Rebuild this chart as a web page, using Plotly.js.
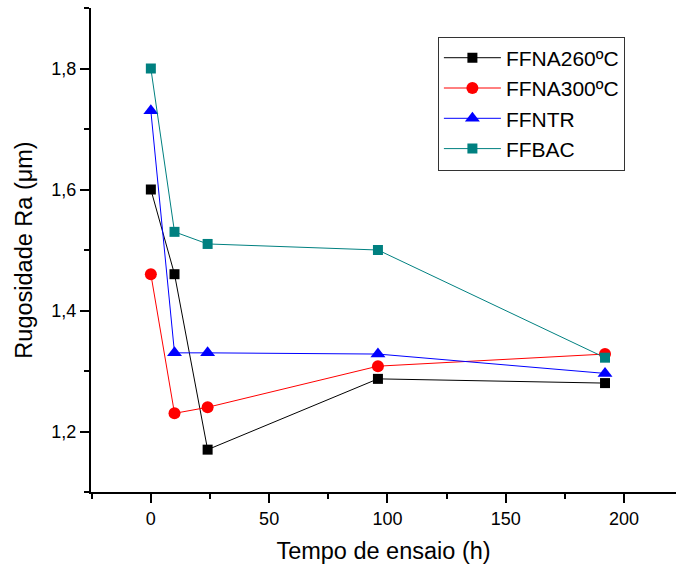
<!DOCTYPE html>
<html>
<head>
<meta charset="utf-8">
<script src="https://cdn.plot.ly/plotly-3.0.1.min.js"></script>
<style>html,body{margin:0;padding:0;background:#fff;}#chart{width:676px;height:569px;}</style>
</head>
<body>
<div id="chart"></div>
<script>
const tempo = [0, 10, 24, 96, 192];
const seriesNames = ["FFNA260ºC", "FFNA300ºC", "FFNTR", "FFBAC"];
const ffna260 = [1.60, 1.46, 1.17, 1.287, 1.28];
const ffna300 = [1.46, 1.23, 1.24, 1.308, 1.328];
const ffntr = [1.73, 1.33, 1.33, 1.328, 1.296];
const ffbac = [1.80, 1.53, 1.51, 1.50, 1.322];

const colors = ["#000000", "#ff0000", "#0000ff", "#008080"];
const symbols = ["square", "circle", "triangle-up", "square"];
const sizes = [10, 12, 13, 10];
const ys = [ffna260, ffna300, ffntr, ffbac];

const traces = ys.map((y, i) => ({
  x: tempo, y: y, name: seriesNames[i], type: "scatter", mode: "lines+markers",
  line: {color: colors[i], width: 1},
  marker: {color: colors[i], symbol: symbols[i], size: sizes[i]}
}));

const font = {family: "Arial, Liberation Sans, sans-serif", color: "#000"};
const layout = {
  width: 676, height: 569,
  margin: {l: 91, r: 0, t: 8, b: 77},
  separators: ",.",
  paper_bgcolor: "#fff", plot_bgcolor: "#fff",
  showlegend: true,
  font: Object.assign({size: 18}, font),
  xaxis: {
    range: [-25.3, 222], showgrid: false, zeroline: false,
    showline: true, linecolor: "#000", linewidth: 2,
    ticks: "outside", ticklen: 9, tickwidth: 2, tickcolor: "#000",
    tickvals: [0, 50, 100, 150, 200],
    minor: {tickvals: [-25, 25, 75, 125, 175, 225], ticks: "outside", ticklen: 5, tickwidth: 2, tickcolor: "#000"},
    tickfont: Object.assign({size: 18}, font),
    title: {text: "Tempo de ensaio (h)", font: Object.assign({size: 23.5}, font), standoff: 15}
  },
  yaxis: {
    range: [1.1, 1.9], showgrid: false, zeroline: false,
    showline: true, linecolor: "#000", linewidth: 2,
    ticks: "outside", ticklen: 9, tickwidth: 2, tickcolor: "#000",
    tickvals: [1.2, 1.4, 1.6, 1.8], tickformat: ".1f",
    minor: {tickvals: [1.1, 1.3, 1.5, 1.7, 1.9], ticks: "outside", ticklen: 5, tickwidth: 2, tickcolor: "#000"},
    tickfont: Object.assign({size: 18}, font),
    title: {text: "Rugosidade Ra (μm)", font: Object.assign({size: 23.5}, font), standoff: 12}
  },
  legend: {
    x: 0.593, y: 0.941, xanchor: "left", yanchor: "top",
    bgcolor: "#fff", bordercolor: "#333", borderwidth: 1,
    font: Object.assign({size: 21}, font),
    itemwidth: 57, tracegroupgap: 0
  }
};
Plotly.newPlot("chart", traces, layout, {displayModeBar: false, staticPlot: true});
</script>
</body>
</html>
